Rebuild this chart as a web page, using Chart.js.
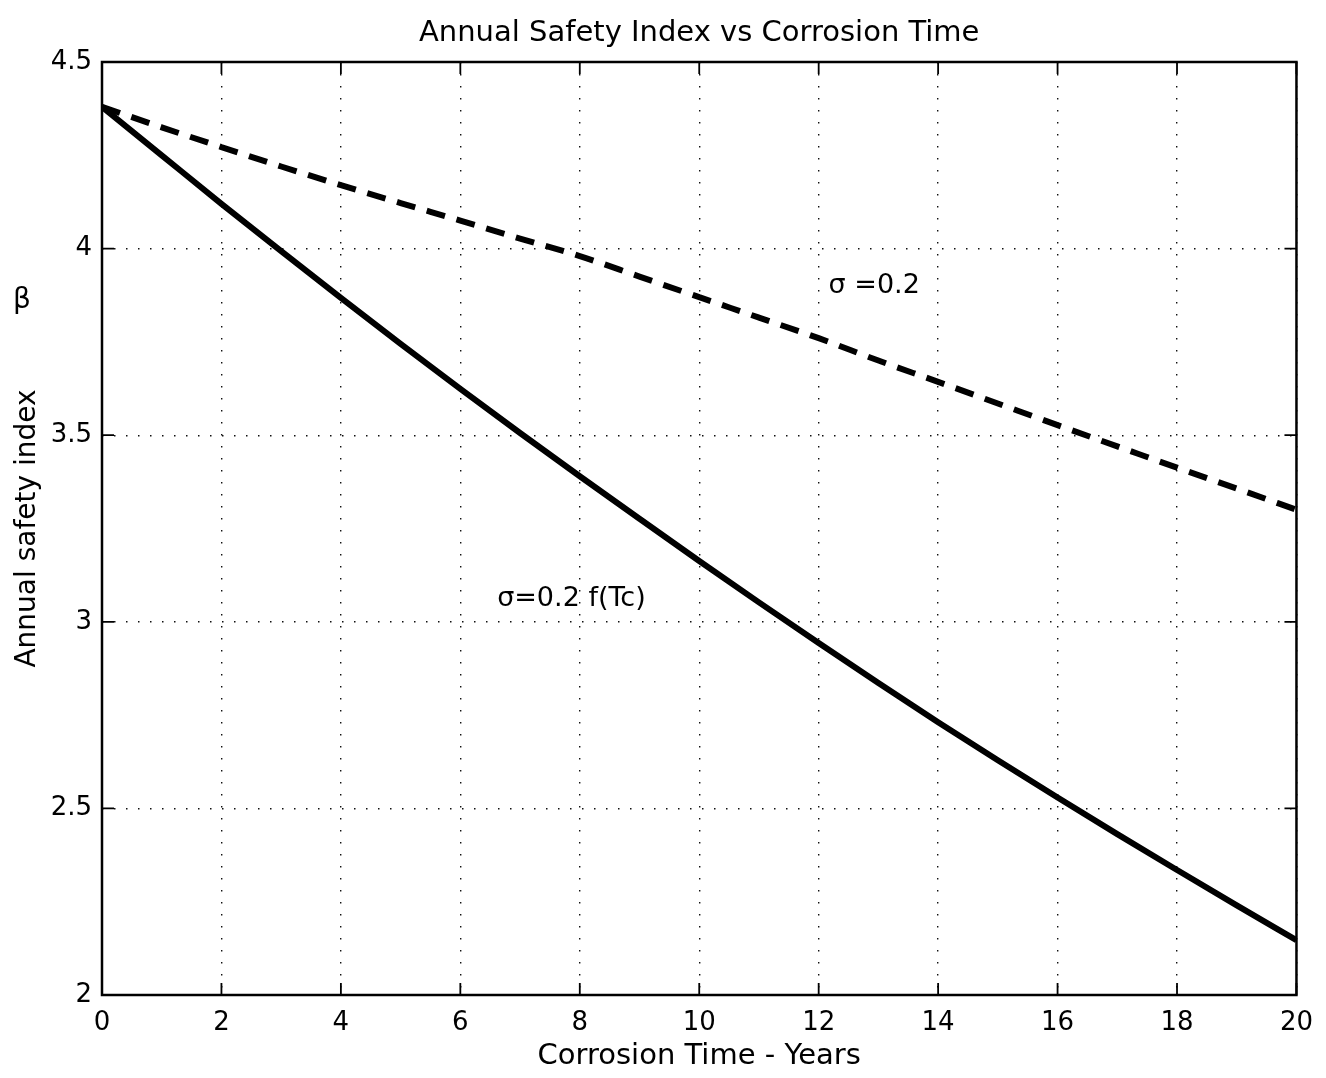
<!DOCTYPE html>
<html>
<head>
<meta charset="utf-8">
<script src="https://cdn.jsdelivr.net/npm/chart.js@4/dist/chart.umd.min.js"></script>
<style>
  html, body { margin: 0; padding: 0; background: #fff; }
</style>
</head>
<body>
<canvas id="chart" width="1326" height="1078"></canvas>
<script>
// corrosion time in years
const years = [0, 1, 2, 3, 4, 5, 6, 7, 8, 9, 10, 11, 12, 13, 14, 15, 16, 17, 18, 19, 20];
// sigma = 0.2 (dashed)
const betaConstSigma = [4.38, 4.325, 4.272, 4.22, 4.17, 4.122, 4.075, 4.027, 3.98, 3.925, 3.87,
                        3.815, 3.76, 3.70, 3.643, 3.585, 3.527, 3.47, 3.413, 3.357, 3.30];
// sigma = 0.2 f(Tc) (solid)
const betaVarSigma = [4.38, 4.25, 4.12, 3.993, 3.868, 3.745, 3.624, 3.506, 3.39, 3.276, 3.163,
                      3.052, 2.943, 2.836, 2.731, 2.629, 2.529, 2.431, 2.335, 2.24, 2.147];

const curveLabels = [
  { text: 'σ =0.2', x: 12.93, y: 3.90 },
  { text: 'σ=0.2 f(Tc)', x: 7.86, y: 3.06 }
];

const FONT = "'DejaVu Sans', 'Liberation Sans', Arial, sans-serif";

const toPoints = (vals) => years.map((t, i) => ({ x: t, y: vals[i] }));

// frame, inward ticks and text labels (matlab look)
const framePlugin = {
  id: 'frame',
  afterDatasetsDraw(chart) {
    const { ctx, chartArea: { left, right, top, bottom }, scales: { x, y } } = chart;
    ctx.save();
    ctx.strokeStyle = '#000';
    ctx.lineWidth = 2.5;
    ctx.strokeRect(left, top, right - left, bottom - top);
    ctx.lineWidth = 1.8;
    ctx.beginPath();
    x.ticks.forEach(t => {
      const px = x.getPixelForValue(t.value);
      ctx.moveTo(px, bottom); ctx.lineTo(px, bottom - 12);
      ctx.moveTo(px, top); ctx.lineTo(px, top + 12);
    });
    y.ticks.forEach(t => {
      const py = y.getPixelForValue(t.value);
      ctx.moveTo(left, py); ctx.lineTo(left + 12, py);
      ctx.moveTo(right, py); ctx.lineTo(right - 12, py);
    });
    ctx.stroke();

    ctx.fillStyle = '#000';
    ctx.font = `27px ${FONT}`;
    ctx.textAlign = 'center';
    ctx.textBaseline = 'middle';
    curveLabels.forEach(l => {
      ctx.fillText(l.text, x.getPixelForValue(l.x), y.getPixelForValue(l.y));
    });
    ctx.font = `28px ${FONT}`;
    ctx.fillText('β', 22, y.getPixelForValue(3.86));
    ctx.restore();
  }
};

const ctx = document.getElementById('chart').getContext('2d');
new Chart(ctx, {
  type: 'scatter',
  data: {
    datasets: [
      {
        label: 'σ =0.2',
        data: toPoints(betaConstSigma),
        showLine: true,
        borderColor: '#000',
        borderWidth: 6,
        borderDash: [19, 12],
        pointRadius: 0,
        cubicInterpolationMode: 'monotone',
        fill: false
      },
      {
        label: 'σ=0.2 f(Tc)',
        data: toPoints(betaVarSigma),
        showLine: true,
        borderColor: '#000',
        borderWidth: 6,
        pointRadius: 0,
        cubicInterpolationMode: 'monotone',
        fill: false
      }
    ]
  },
  options: {
    responsive: false,
    animation: false,
    layout: { padding: { left: 0, right: 21, top: 0, bottom: 0 } },
    plugins: {
      legend: { display: false },
      tooltip: { enabled: false },
      title: {
        display: true,
        fullSize: false,
        text: 'Annual Safety Index vs Corrosion Time',
        color: '#000',
        font: { family: FONT, size: 29, weight: 'normal', lineHeight: 1.2 },
        padding: { top: 15.6, bottom: 11.6 }
      }
    },
    scales: {
      x: {
        type: 'linear',
        min: 0,
        max: 20,
        ticks: {
          stepSize: 2,
          color: '#000',
          font: { family: FONT, size: 26 },
          padding: 13,
          maxRotation: 0,
          callback: v => String(v)
        },
        grid: { color: '#111', lineWidth: 1.4, drawTicks: false },
        border: { display: false, dash: [1.5, 10.5] },
        title: {
          display: true,
          text: 'Corrosion Time - Years',
          color: '#000',
          font: { family: FONT, size: 29 },
          padding: { top: 0, bottom: 4 }
        },
        afterFit(scale) { scale.height = 83; }
      },
      y: {
        min: 2,
        max: 4.5,
        ticks: {
          stepSize: 0.5,
          color: '#000',
          font: { family: FONT, size: 26 },
          padding: 10,
          callback: v => String(v)
        },
        grid: { color: '#111', lineWidth: 1.4, drawTicks: false },
        border: { display: false, dash: [1.5, 10.5] },
        title: {
          display: true,
          text: 'Annual safety index',
          color: '#000',
          font: { family: FONT, size: 28 },
          padding: { top: 11, bottom: 0 }
        },
        afterFit(scale) { scale.width = 102; }
      }
    }
  },
  plugins: [framePlugin]
});
</script>
</body>
</html>
